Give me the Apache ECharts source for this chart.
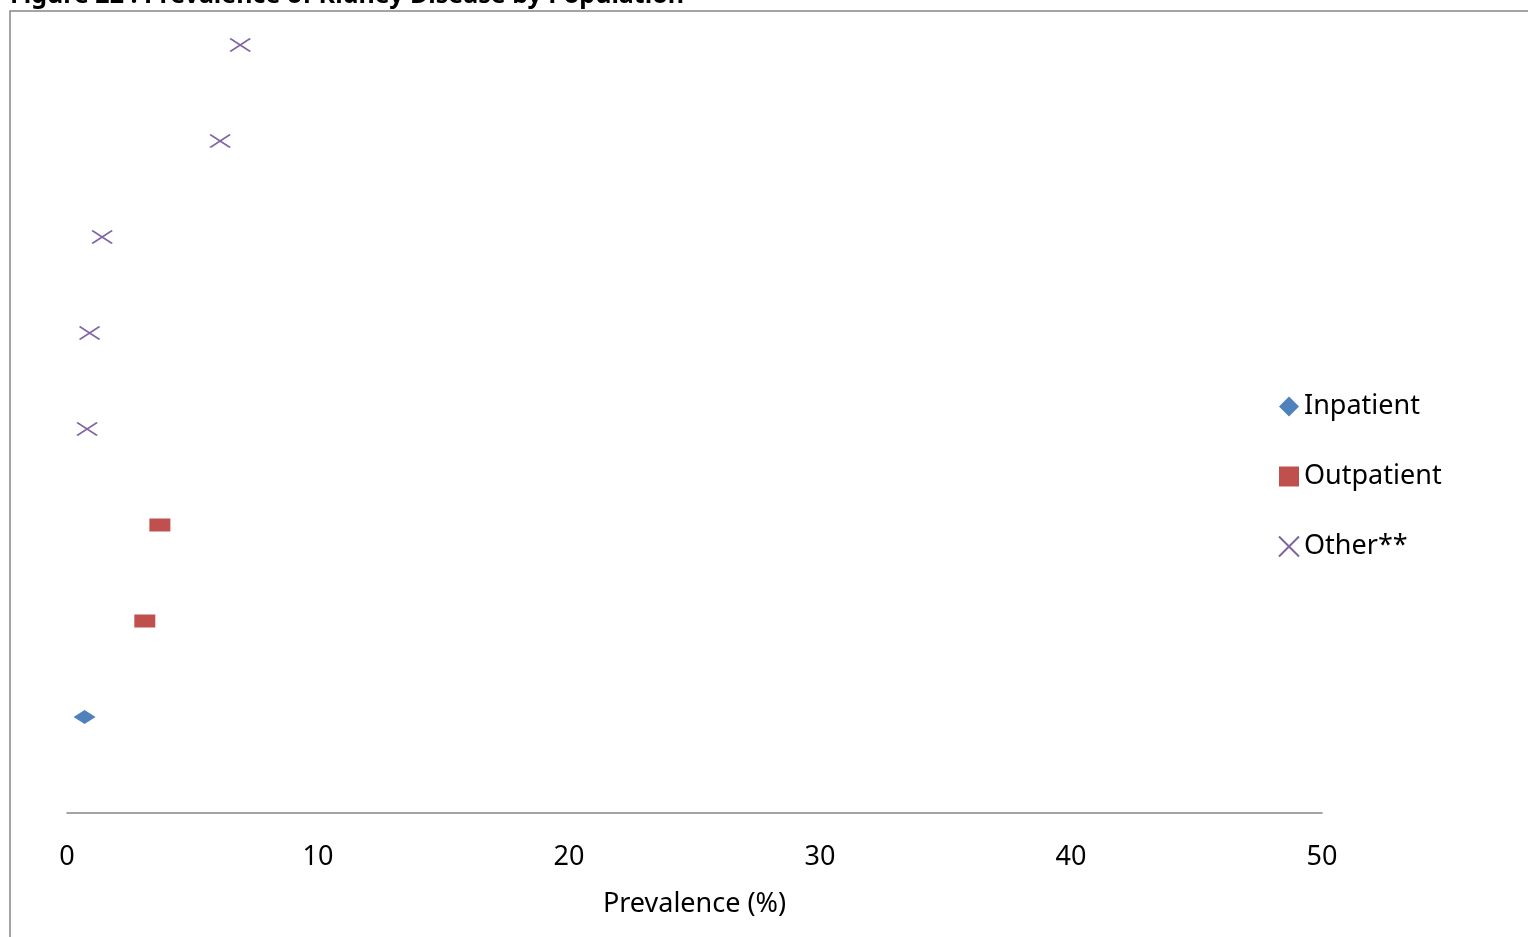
<!DOCTYPE html>
<html><head><meta charset="utf-8">
<script src="https://cdn.jsdelivr.net/npm/echarts@6/dist/echarts.min.js"></script>
<style>html,body{margin:0;padding:0;background:#fff;}#c{width:1528px;height:937px;}</style>
</head><body><div id="c"></div>
<script>
const titleText = 'Figure 22 : Prevalence of Kidney Disease by Population';
const seriesNames = ['Inpatient', 'Outpatient', 'Other**'];
const inpatientX = [0.7];
const inpatientRow = [1];
const outpatientX = [3.1, 3.7];
const outpatientRow = [2, 3];
const otherX = [0.8, 0.9, 1.4, 6.1, 6.9];
const otherRow = [4, 5, 6, 7, 8];
const xTicks = [0, 10, 20, 30, 40, 50];
const xAxisName = 'Prevalence (%)';

const zip = (xs, ys) => xs.map((x, i) => [x, ys[i]]);
const FONT = '"Noto Sans", "Open Sans", sans-serif';
const chart = echarts.init(document.getElementById('c'), null, {renderer: 'canvas'});
chart.setOption({
  animation: false,
  backgroundColor: '#fff',
  graphic: [
    {type: 'rect', shape: {x: 10, y: 11, width: 1600, height: 1000}, style: {fill: 'none', stroke: '#868686', lineWidth: 1.5}, z: -1},
    {type: 'text', x: 10, y: -17, style: {text: titleText, font: 'bold 25px ' + FONT, fill: '#000', verticalAlign: 'top', align: 'left'}}
  ],
  grid: {left: 67, right: 206, top: 21, bottom: 124},
  legend: {
    orient: 'vertical', left: 1273, top: 388, itemWidth: 20, itemHeight: 20, itemGap: 43,
    textStyle: {fontSize: 27, color: '#000', fontFamily: FONT},
    data: seriesNames
  },
  xAxis: {
    type: 'value', min: xTicks[0], max: xTicks[xTicks.length - 1], interval: 10,
    axisLine: {show: true, lineStyle: {color: '#868686', width: 1.5}},
    axisTick: {show: false}, splitLine: {show: false},
    axisLabel: {fontSize: 27, color: '#000', fontFamily: FONT, margin: 31},
    name: xAxisName, nameLocation: 'middle', nameGap: 78,
    nameTextStyle: {fontSize: 27, color: '#000', fontFamily: FONT}
  },
  yAxis: {type: 'value', min: 0, max: 8.25, show: false, splitLine: {show: false}},
  series: [
    {name: seriesNames[0], type: 'scatter', data: zip(inpatientX, inpatientRow), symbol: 'diamond', symbolSize: [22, 14], itemStyle: {color: '#4F81BD', opacity: 1}},
    {name: seriesNames[1], type: 'scatter', data: zip(outpatientX, outpatientRow), symbol: 'rect', symbolSize: [21, 13], itemStyle: {color: '#C0504D', opacity: 1}},
    {name: seriesNames[2], type: 'scatter', data: zip(otherX, otherRow), symbol: 'path://M0,0L10,10M10,0L0,10', symbolSize: [20, 13],
     itemStyle: {color: 'rgba(0,0,0,0)', borderColor: '#8064A2', borderWidth: 1.8, opacity: 1}}
  ]
});
</script></body></html>
